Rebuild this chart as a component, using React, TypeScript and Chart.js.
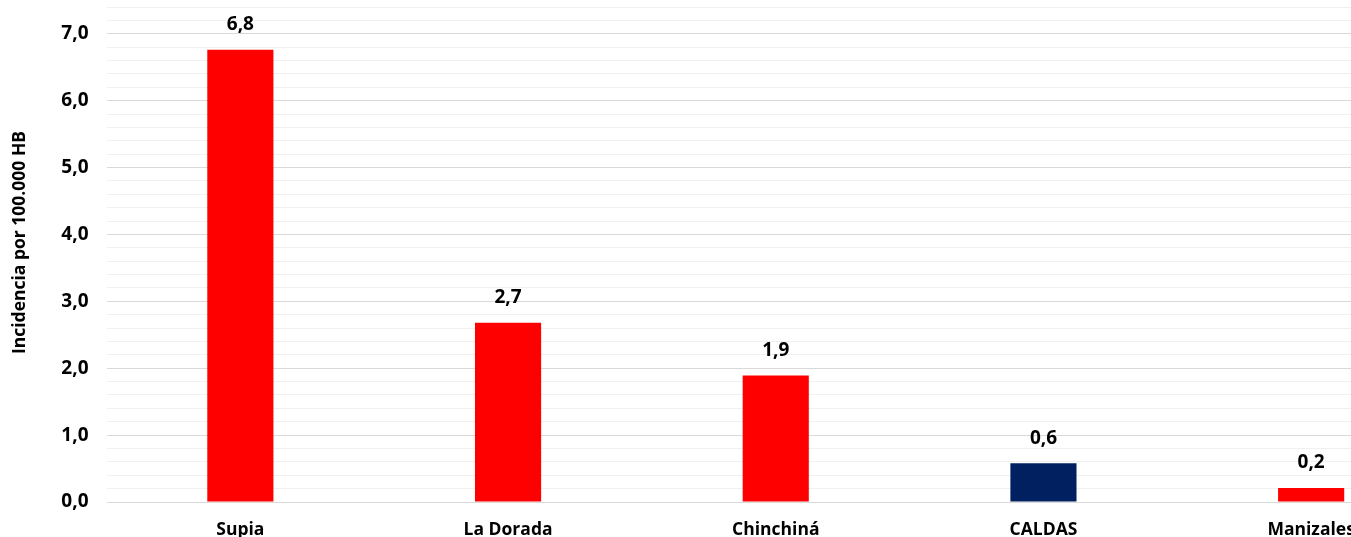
import React, { useEffect, useRef } from "react";
import { Chart, registerables } from "chart.js";

Chart.register(...registerables);

const categories = ["Supia", "La Dorada", "Chinchiná", "CALDAS", "Manizales"];
const values = [6.76, 2.68, 1.89, 0.58, 0.21];
const barColors = ["#FF0000", "#FF0000", "#FF0000", "#002060", "#FF0000"];
const yTitle = "Incidencia por 100.000 HB";

const FONT = "'Open Sans', 'Liberation Sans', sans-serif";
const CANVAS_W = 1445;
const CANVAS_H = 560;

const fmt = (v: number) => v.toFixed(1).replace(".", ",");

export default function App() {
  const ref = useRef<HTMLCanvasElement | null>(null);

  useEffect(() => {
    document.body.style.margin = "0";
    const canvas = ref.current;
    if (!canvas) return;

    const labelPlugin = {
      id: "valueLabels",
      afterDatasetsDraw(chart: any) {
        const ctx = chart.ctx;
        const meta = chart.getDatasetMeta(0);
        ctx.save();
        ctx.font = `bold 19px ${FONT}`;
        ctx.fillStyle = "#000000";
        ctx.textAlign = "center";
        ctx.textBaseline = "middle";
        meta.data.forEach((bar: any, i: number) => {
          ctx.fillText(fmt(values[i]), bar.x, bar.y - 25);
        });
        ctx.restore();
      },
    };

    const titlePlugin = {
      id: "yTitleDraw",
      afterDraw(chart: any) {
        const ctx = chart.ctx;
        const area = chart.chartArea;
        ctx.save();
        ctx.font = `bold 17.5px ${FONT}`;
        ctx.fillStyle = "#000000";
        ctx.textAlign = "center";
        ctx.textBaseline = "middle";
        ctx.translate(20, (area.top + area.bottom) / 2 - 12);
        ctx.rotate(-Math.PI / 2);
        ctx.fillText(yTitle, 0, 0);
        ctx.restore();
      },
    };

    const chart = new Chart(canvas, {
      type: "bar",
      data: {
        labels: categories,
        datasets: [
          {
            data: values,
            backgroundColor: barColors,
            borderWidth: 0,
            categoryPercentage: 1,
            barPercentage: 0.247,
          },
        ],
      },
      options: {
        responsive: false,
        animation: false,
        devicePixelRatio: 1,
        layout: { padding: { top: 7, left: 0, right: 0, bottom: 0 } },
        plugins: {
          legend: { display: false },
          tooltip: { enabled: false },
        },
        scales: {
          x: {
            grid: { display: false },
            border: { display: false },
            ticks: {
              color: "#000000",
              font: { family: FONT, size: 17.5, weight: "bold" },
              padding: 10,
              maxRotation: 0,
              autoSkip: false,
            },
            afterFit(scale: any) {
              scale.height = CANVAS_H - 502;
              scale.paddingLeft = 0;
              scale.paddingRight = 0;
            },
          },
          y: {
            min: 0,
            max: 7.4,
            border: { display: false },
            grid: {
              drawTicks: false,
              lineWidth: 1,
              color: (c: any) => {
                const v = c.tick ? c.tick.value : 0;
                return Math.abs(v - Math.round(v)) < 1e-6 ? "#D9D9D9" : "#F0F0F0";
              },
            },
            ticks: {
              stepSize: 0.2,
              autoSkip: false,
              padding: 18,
              color: "#000000",
              font: { family: FONT, size: 19, weight: "bold" },
              callback: (v: any) => {
                const n = Number(v);
                return Math.abs(n - Math.round(n)) < 1e-6 ? fmt(Math.round(n)) : "";
              },
            },
            title: { display: false },
            afterFit(scale: any) {
              scale.width = 106.5;
              scale.paddingTop = 0;
              scale.paddingBottom = 0;
            },
          },
        },
      },
      plugins: [labelPlugin, titlePlugin],
    });

    return () => chart.destroy();
  }, []);

  return (
    <div
      style={{
        position: "fixed",
        left: 0,
        top: 0,
        width: 1351,
        height: 537,
        overflow: "hidden",
        background: "#FFFFFF",
      }}
    >
      <canvas
        ref={ref}
        width={CANVAS_W}
        height={CANVAS_H}
        style={{ width: CANVAS_W, height: CANVAS_H, display: "block" }}
      />
    </div>
  );
}
